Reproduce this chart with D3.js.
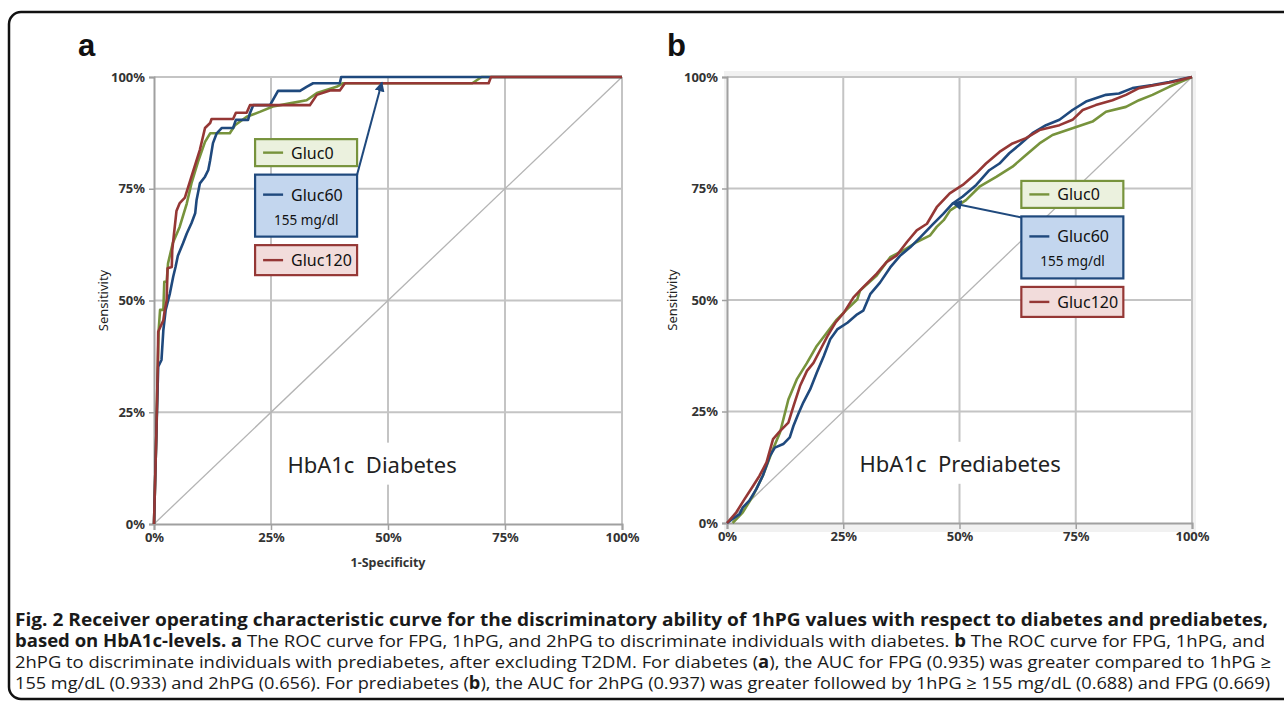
<!DOCTYPE html>
<html>
<head>
<meta charset="utf-8">
<script src="https://cdn.jsdelivr.net/npm/d3@7"></script>
<style>
body { margin: 0; background: #fff; }
svg { display: block; }
</style>
</head>
<body>
<div id="chart"></div>
<script>
// axis ticks
var tickValues = [0, 25, 50, 75, 100];
var tickLabels = ["0%", "25%", "50%", "75%", "100%"];

var seriesNames = ["Gluc0", "Gluc60", "Gluc120"];
var seriesColors = ["#77933c", "#1f497d", "#953735"];
var seriesFills = ["#ebf1de", "#c3d6ee", "#f2dcdb"];
var cutoffLabel = "155 mg/dl";

// panel a (HbA1c diabetes): [1-specificity %, sensitivity %]
var gluc0A = [[0,0],[0.5,20],[0.8,35],[1,43.4],[1.3,47.9],[2,47.9],[2.2,54.2],[2.7,54.2],[3,58.3],[4,62.8],[5.5,66.5],[7,71.7],[8,76.2],[9.4,81],[10.9,85.5],[12,87.4],[16.2,87.4],[17.3,89.2],[19.8,91.1],[22.6,92.2],[25.4,93.4],[29,94.1],[32.6,94.8],[34.8,96.4],[39,97.8],[40.4,98.6],[68,98.6],[70,100],[100,100]];
var gluc60A = [[0,0],[0.5,20],[0.8,31.5],[0.9,35.2],[1.6,36.7],[2,43.4],[2.5,47.9],[3.4,51.6],[4.1,55.3],[4.6,57.5],[5.1,60],[6.2,62.8],[7,65],[8,67.3],[8.8,69.5],[9.1,72.5],[9.8,76.2],[10.9,77.7],[11.6,79.2],[12,81.4],[12.6,85.2],[13.4,87.4],[14.5,88.6],[16.9,88.6],[17.5,90.4],[20.1,90.4],[20.5,91.9],[21.2,93.7],[24.8,93.7],[26.5,96.9],[31.2,96.9],[32.6,97.8],[34,98.6],[39.7,98.6],[40,100],[100,100]];
var gluc120A = [[0,0],[0.5,20],[0.8,35],[0.9,43],[2,45.6],[2.3,47.9],[2.7,50],[2.9,57.2],[3.8,57.5],[3.9,61.3],[4.8,70],[5.5,71.8],[6.6,73],[8,77.7],[9.8,83.7],[10.9,88.6],[12,89.7],[12.3,90.6],[16.9,90.6],[17.5,92],[19.8,92],[20.5,93.7],[33.3,93.7],[34.8,96],[37.6,97],[39.7,97],[40.8,98.6],[71.5,98.6],[72,100],[100,100]];
var cutoffA = [48.7, 98.8];

// panel b (HbA1c prediabetes)
var gluc0B = [[1.2,0],[3.4,2.4],[5.6,6.1],[7.7,10.6],[9.9,16.6],[11.4,20.3],[13.2,27.7],[15,32.2],[17.2,35.9],[19.3,39.7],[21.5,42.7],[23.6,45.6],[25.8,47.9],[28,50.1],[28.6,52.1],[32.2,55.5],[35.1,59.6],[37.9,61.1],[40.8,63],[43.7,64.5],[45.1,66.4],[46.6,67.9],[48,70.1],[51.4,72.4],[54.3,75.4],[57.9,77.6],[61.4,79.9],[64.3,82.5],[67.2,85.1],[70,87],[74.3,88.5],[78.6,90],[81.5,92.2],[85.8,93.3],[88.6,94.8],[91.5,96],[95.1,97.8],[100,100]];
var gluc60B = [[0,0],[0.9,0.7],[2.7,2],[3.4,3.5],[4.8,5],[6.3,7.6],[7.7,10.6],[9.2,15],[10.3,16.9],[12.1,17.7],[13.5,19.2],[14.3,21.8],[15.3,24.4],[16.4,27],[17.9,30],[19.3,33.7],[20.8,37.4],[22.2,41.2],[23.7,43.4],[25.9,44.9],[28,46.8],[29.3,47.6],[30.8,51.3],[32.9,53.9],[35.1,57.3],[37.2,59.9],[39.4,61.8],[41.5,64],[44.3,67],[46.5,69.3],[48.6,71.7],[50.7,73.2],[53.6,75.8],[56.4,79.1],[58.6,80.6],[60.7,82.9],[62.9,84.8],[65.7,87.4],[68.6,89.2],[71.5,90.4],[74.3,92.6],[77.2,94.5],[81.5,96],[84.3,96.3],[87.2,97.5],[91.5,98.2],[95.1,98.9],[98.6,99.7],[100,100]];
var gluc120B = [[0,0],[2,2.4],[3.8,5.4],[5.6,8.3],[7,10.6],[8.5,13.6],[9.9,18.8],[11.4,20.6],[13.2,22.5],[14.3,26.2],[15.7,30.7],[17.2,34.1],[18.6,35.9],[20.1,38.9],[21.6,41.9],[23.3,44.9],[25.1,47.1],[27.2,50.6],[29.3,52.9],[32.2,55.9],[34.3,58.5],[36.5,60],[38.7,63],[40.8,65.6],[43,67.1],[45.1,70.8],[47.9,73.9],[50.7,75.8],[53.6,78.4],[55.7,80.6],[58.6,83.2],[61.4,85.1],[64.3,86.3],[67.2,88.1],[71.5,89.2],[74.3,90.4],[76.5,92.6],[79.3,93.7],[82.9,94.8],[85.8,96],[88.6,97.5],[92.2,98.2],[95.8,98.9],[100,100]];
var cutoffB = [48.5, 71.7];

var width = 1284, height = 705;
var font = "'Noto Sans', 'Open Sans', sans-serif";

var svg = d3.select("#chart").append("svg")
  .attr("width", width)
  .attr("height", height)
  .style("font-family", font);

// outer frame
svg.append("rect")
  .attr("x", 9).attr("y", 12)
  .attr("width", 1300).attr("height", 687)
  .attr("rx", 12)
  .attr("fill", "none")
  .attr("stroke", "#111")
  .attr("stroke-width", 2.5);

var defs = svg.append("defs");
defs.append("marker")
  .attr("id", "arrowhead")
  .attr("viewBox", "0 0 10 10")
  .attr("refX", 9).attr("refY", 5)
  .attr("markerWidth", 5).attr("markerHeight", 5)
  .attr("orient", "auto")
  .append("path")
  .attr("d", "M0,0 L10,5 L0,10 z")
  .attr("fill", "#1f497d");

drawPanel({
  letter: "a", letterX: 78,
  left: 154, right: 622, top: 77, bottom: 524,
  series: [gluc0A, gluc60A, gluc120A],
  cutoff: cutoffA,
  legendAt: [21.6, 86.1], arrowFrom: "right",
  label: "HbA1c  Diabetes", labelAt: [28.5, 13.5],
  yTitleX: 103, xTitle: "1-Specificity", frame: false
});

drawPanel({
  letter: "b", letterX: 667,
  left: 727, right: 1192, top: 77, bottom: 523,
  series: [gluc0B, gluc60B, gluc120B],
  cutoff: cutoffB,
  legendAt: [63.3, 76.7], arrowFrom: "left",
  label: "HbA1c  Prediabetes", labelAt: [28.5, 13.5],
  yTitleX: 672, xTitle: null, frame: true
});

function drawPanel(p) {
  var x = d3.scaleLinear().domain([0, 100]).range([p.left, p.right]);
  var y = d3.scaleLinear().domain([0, 100]).range([p.bottom, p.top]);
  var g = svg.append("g");

  g.append("text")
    .attr("x", p.letterX).attr("y", 56)
    .attr("font-family", "'Liberation Sans', Arial, sans-serif")
    .attr("font-weight", "bold")
    .attr("font-size", 31)
    .attr("fill", "#111")
    .text(p.letter);

  if (p.frame) {
    // faint grey band round the plot area
    g.append("rect")
      .attr("x", p.left - 3).attr("y", p.top - 6)
      .attr("width", p.right - p.left + 7).attr("height", p.bottom - p.top + 15)
      .attr("fill", "#f1f1f1");
    g.append("rect")
      .attr("x", p.left).attr("y", p.top)
      .attr("width", p.right - p.left).attr("height", p.bottom - p.top)
      .attr("fill", "#fff");
  }

  // gridlines
  g.selectAll(".vgrid").data(tickValues.slice(1)).enter().append("line")
    .attr("x1", d => x(d)).attr("x2", d => x(d))
    .attr("y1", y(0)).attr("y2", y(100))
    .attr("stroke", "#c4c4c4").attr("stroke-width", 2);
  g.selectAll(".hgrid").data(tickValues.slice(1)).enter().append("line")
    .attr("x1", x(0)).attr("x2", x(100))
    .attr("y1", d => y(d)).attr("y2", d => y(d))
    .attr("stroke", "#c4c4c4").attr("stroke-width", 2);

  // axes
  var yAxis = g.append("g")
    .attr("transform", "translate(" + x(0) + ",0)")
    .call(d3.axisLeft(y).tickValues(tickValues).tickFormat((d, i) => tickLabels[i]).tickSize(5).tickPadding(4));
  var xAxis = g.append("g")
    .attr("transform", "translate(0," + y(0) + ")")
    .call(d3.axisBottom(x).tickValues(tickValues).tickFormat((d, i) => tickLabels[i]).tickSize(6).tickPadding(3));
  [xAxis, yAxis].forEach(function(a) {
    a.select(".domain").attr("stroke", "#a0a0a0").attr("stroke-width", 2);
    a.selectAll(".tick line").attr("stroke", "#a0a0a0").attr("stroke-width", 1.5);
    a.selectAll(".tick text")
      .attr("font-family", font)
      .attr("font-size", 13)
      .attr("font-weight", "bold")
      .attr("fill", "#333");
  });

  // y title
  g.append("text")
    .attr("transform", "translate(" + p.yTitleX + "," + y(50) + ") rotate(-90)")
    .attr("text-anchor", "middle")
    .attr("dominant-baseline", "central")
    .attr("font-size", 13)
    .attr("fill", "#222")
    .text("Sensitivity");

  if (p.xTitle) {
    g.append("text")
      .attr("x", x(50)).attr("y", y(0) + 43)
      .attr("text-anchor", "middle")
      .attr("font-size", 12.5)
      .attr("font-weight", "bold")
      .attr("fill", "#333")
      .text(p.xTitle);
  }

  // chance diagonal
  g.append("line")
    .attr("x1", x(0)).attr("y1", y(0))
    .attr("x2", x(100)).attr("y2", y(100))
    .attr("stroke", "#b4b4b4").attr("stroke-width", 1.3);

  // centre label with a white box
  var lab = g.append("text")
    .attr("x", x(p.labelAt[0])).attr("y", y(p.labelAt[1]))
    .attr("dominant-baseline", "central")
    .attr("font-size", 22)
    .attr("fill", "#222")
    .style("white-space", "pre")
    .text(p.label);
  var bb = lab.node().getBBox();
  g.insert("rect", function() { return lab.node(); })
    .attr("x", bb.x - 4).attr("y", bb.y - 6)
    .attr("width", bb.width + 8).attr("height", bb.height + 12)
    .attr("fill", "#fff");

  // ROC curves
  var line = d3.line().x(d => x(d[0])).y(d => y(d[1]));
  p.series.forEach(function(s, i) {
    g.append("path")
      .datum(s)
      .attr("fill", "none")
      .attr("stroke", seriesColors[i])
      .attr("stroke-width", 2.6)
      .attr("stroke-linejoin", "round")
      .attr("d", line);
  });

  // legend boxes
  var lx = x(p.legendAt[0]), ly = y(p.legendAt[1]);
  var boxW = 102;
  var boxes = [
    {top: ly, h: 27},
    {top: ly + 35.5, h: 62},
    {top: ly + 106, h: 30}
  ];
  boxes.forEach(function(b, i) {
    g.append("rect")
      .attr("x", lx).attr("y", b.top)
      .attr("width", boxW).attr("height", b.h)
      .attr("fill", seriesFills[i])
      .attr("stroke", seriesColors[i])
      .attr("stroke-width", 2.2);
    var cy = i === 1 ? b.top + 20 : b.top + b.h / 2;
    g.append("line")
      .attr("x1", lx + 8).attr("x2", lx + 28)
      .attr("y1", cy).attr("y2", cy)
      .attr("stroke", seriesColors[i]).attr("stroke-width", 2.4);
    g.append("text")
      .attr("x", lx + 36).attr("y", cy)
      .attr("dominant-baseline", "central")
      .attr("font-size", 16)
      .attr("fill", "#111")
      .text(seriesNames[i]);
    if (i === 1) {
      g.append("text")
        .attr("x", lx + 19).attr("y", b.top + 45)
        .attr("dominant-baseline", "central")
        .attr("font-size", 13.5)
        .attr("fill", "#111")
        .text(cutoffLabel);
    }
  });

  // arrow from the Gluc60 box to its cut-off point
  var ax = p.arrowFrom === "right" ? lx + boxW : lx;
  var ay = p.arrowFrom === "right" ? boxes[1].top : boxes[1].top + 1;
  g.append("line")
    .attr("x1", ax).attr("y1", ay)
    .attr("x2", x(p.cutoff[0])).attr("y2", y(p.cutoff[1]))
    .attr("stroke", "#1f497d").attr("stroke-width", 2)
    .attr("marker-end", "url(#arrowhead)");
}

// caption
var capLines = [
  {y: 626, len: 1253, parts: [["Fig. 2 Receiver operating characteristic curve for the discriminatory ability of 1hPG values with respect to diabetes and prediabetes,", true]]},
  {y: 647, len: 1250, parts: [["based on HbA1c-levels. a", true], [" The ROC curve for FPG, 1hPG, and 2hPG to discriminate individuals with diabetes. ", false], ["b", true], [" The ROC curve for FPG, 1hPG, and", false]]},
  {y: 668, len: 1256, parts: [["2hPG to discriminate individuals with prediabetes, after excluding T2DM. For diabetes (", false], ["a", true], ["), the AUC for FPG (0.935) was greater compared to 1hPG \u2265", false]]},
  {y: 689, len: 1255, parts: [["155 mg/dL (0.933) and 2hPG (0.656). For prediabetes (", false], ["b", true], ["), the AUC for 2hPG (0.937) was greater followed by 1hPG \u2265 155 mg/dL (0.688) and FPG (0.669)", false]]}
];
capLines.forEach(function(l) {
  var t = svg.append("text")
    .attr("x", 15).attr("y", l.y)
    .attr("font-family", "'Open Sans', 'Noto Sans', sans-serif")
    .attr("font-size", 17)
    .attr("fill", "#1a1a1a")
    .attr("textLength", l.len)
    .attr("lengthAdjust", "spacingAndGlyphs")
    .style("white-space", "pre");
  l.parts.forEach(function(pt) {
    t.append("tspan")
      .attr("font-weight", pt[1] ? "bold" : "normal")
      .text(pt[0]);
  });
});
</script>
</body>
</html>
